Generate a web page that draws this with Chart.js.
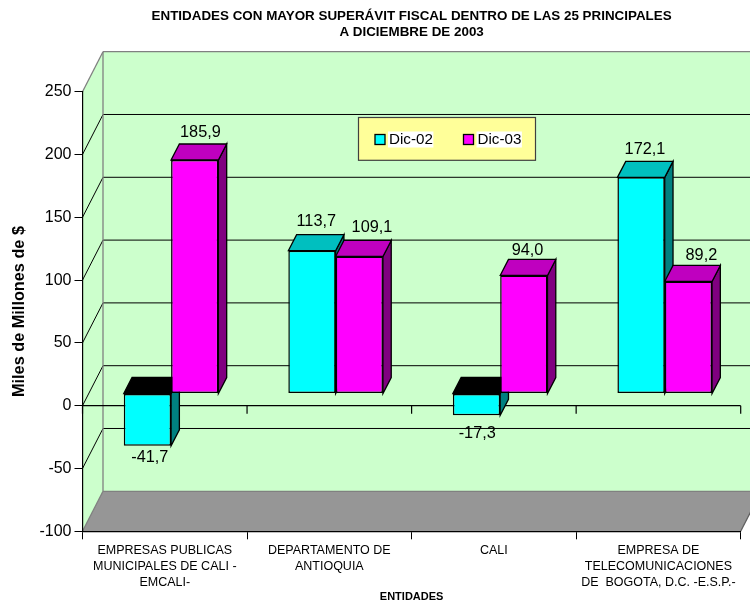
<!DOCTYPE html>
<html lang="es">
<head>
    <meta charset="UTF-8">
    <title>Entidades con mayor superávit fiscal</title>
    <script src="https://cdn.jsdelivr.net/npm/chart.js"></script>
    <style>
        body { margin: 0; background: #fff; }
        canvas { display: block; }
    </style>
</head>
<body>
    <canvas id="chart" width="750" height="605"></canvas>
    <script>
        const categories = [
            ['EMPRESAS PUBLICAS', 'MUNICIPALES DE CALI -', 'EMCALI-'],
            ['DEPARTAMENTO DE', 'ANTIOQUIA'],
            ['CALI'],
            ['EMPRESA DE', 'TELECOMUNICACIONES', 'DE  BOGOTA, D.C. -E.S.P.-']
        ];
        const dic02 = [-41.7, 113.7, -17.3, 172.1];
        const dic03 = [185.9, 109.1, 94.0, 89.2];

        const FONT = '"Liberation Sans", Arial, sans-serif';
        // 3D look: back wall offset, bar offset inside the box, bar depth
        const WALL = { dx: 20.5, dy: -40 };
        const BAR_SHIFT = { dx: 6.3, dy: -12.2 };
        const BAR_DEPTH = { dx: 8.3, dy: -16 };
        const FACES = [
            { top: '#00BFBF', side: '#008080' },
            { top: '#BF00BF', side: '#800080' }
        ];
        // small per-label nudges, from the front face of each bar
        const LABEL_NUDGE = [
            [[2.4, 16.5], [4.3, -24.4], [0.7, 22.5], [3.9, -23.4]],
            [[5.7, -23], [12.7, -24.2], [3.7, -20], [13, -21.7]]
        ];

        function line(ctx, x1, y1, x2, y2, color, width) {
            ctx.strokeStyle = color;
            ctx.lineWidth = width;
            ctx.beginPath();
            ctx.moveTo(x1, y1);
            ctx.lineTo(x2, y2);
            ctx.stroke();
        }

        function poly(ctx, pts, fill) {
            ctx.fillStyle = fill;
            ctx.strokeStyle = '#000';
            ctx.lineWidth = 1.3;
            ctx.beginPath();
            pts.forEach((p, i) => i ? ctx.lineTo(p[0], p[1]) : ctx.moveTo(p[0], p[1]));
            ctx.closePath();
            ctx.fill();
            ctx.stroke();
        }

        // Walls, floor, grid and the zero line
        const box3d = {
            id: 'box3d',
            beforeDraw(chart) {
                const { ctx, chartArea: a, scales: { x, y } } = chart;
                const { dx, dy } = WALL;
                ctx.save();
                ctx.fillStyle = '#CCFFCC';
                ctx.beginPath();
                ctx.moveTo(a.left, a.top);
                ctx.lineTo(a.left + dx, a.top + dy);
                ctx.lineTo(a.right + dx, a.top + dy);
                ctx.lineTo(a.right + dx, a.bottom + dy);
                ctx.lineTo(a.left, a.bottom);
                ctx.closePath();
                ctx.fill();

                y.ticks.forEach(t => {
                    const py = y.getPixelForValue(t.value);
                    if (t.value > -100 && t.value < 250) {
                        line(ctx, a.left, py, a.left + dx, py + dy, '#000', 1);
                        line(ctx, a.left + dx, py + dy, a.right + dx, py + dy, '#000', 1);
                    }
                });

                ctx.fillStyle = '#969696';
                ctx.beginPath();
                ctx.moveTo(a.left, a.bottom);
                ctx.lineTo(a.right, a.bottom);
                ctx.lineTo(a.right + dx, a.bottom + dy);
                ctx.lineTo(a.left + dx, a.bottom + dy);
                ctx.closePath();
                ctx.fill();

                line(ctx, a.left, a.top, a.left + dx, a.top + dy, '#808080', 1.3);
                line(ctx, a.left + dx, a.top + dy, a.right + dx, a.top + dy, '#808080', 1.3);
                line(ctx, a.left + dx, a.top + dy, a.left + dx, a.bottom + dy, '#808080', 1.3);
                line(ctx, a.left + dx, a.bottom + dy, a.right + dx, a.bottom + dy, '#808080', 1.3);
                line(ctx, a.left, a.bottom, a.left + dx, a.bottom + dy, '#808080', 1.3);
                line(ctx, a.right, a.bottom, a.right + dx, a.bottom + dy, '#606060', 1.3);

                const zero = y.getPixelForValue(0);
                line(ctx, a.left, zero, a.right, zero, '#000', 1.2);
                for (let i = 0; i <= categories.length; i++) {
                    const px = a.left + (a.right - a.left) * i / categories.length;
                    line(ctx, px, zero, px, zero + 8, '#000', 1.2);
                }
                ctx.restore();
            },
            beforeDatasetsDraw(chart) {
                const { ctx, scales: { y } } = chart;
                const zero = y.getPixelForValue(0);
                ctx.save();
                ctx.translate(BAR_SHIFT.dx, BAR_SHIFT.dy);
                const ddx = BAR_DEPTH.dx, ddy = BAR_DEPTH.dy;
                chart.data.datasets.forEach((ds, d) => {
                    chart.getDatasetMeta(d).data.forEach(bar => {
                        const l = bar.x - bar.width / 2, r = bar.x + bar.width / 2;
                        const top = Math.min(bar.y, zero), bottom = Math.max(bar.y, zero);
                        poly(ctx, [[r, top], [r + ddx, top + ddy], [r + ddx, bottom + ddy], [r, bottom]], FACES[d].side);
                        poly(ctx, [[l, top], [l + ddx, top + ddy], [r + ddx, top + ddy], [r, top]], bar.y > zero ? '#000' : FACES[d].top);
                    });
                });
            },
            afterDatasetsDraw(chart) {
                const { ctx } = chart;
                ctx.restore();
                ctx.save();
                ctx.font = '16.3px ' + FONT;
                ctx.fillStyle = '#000';
                ctx.textAlign = 'center';
                ctx.textBaseline = 'alphabetic';
                chart.data.datasets.forEach((ds, d) => {
                    chart.getDatasetMeta(d).data.forEach((bar, i) => {
                        const nudge = LABEL_NUDGE[d][i];
                        const text = ds.data[i].toFixed(1).replace('.', ',');
                        ctx.fillText(text, bar.x + BAR_SHIFT.dx + nudge[0], bar.y + BAR_SHIFT.dy + nudge[1]);
                    });
                });

                // Legend box
                const lx = 358.5, ly = 117.5, lw = 177, lh = 42.8;
                ctx.fillStyle = '#FFFF99';
                ctx.strokeStyle = '#404040';
                ctx.lineWidth = 1.2;
                ctx.fillRect(lx, ly, lw, lh);
                ctx.strokeRect(lx, ly, lw, lh);
                const itemX = [375, 463.5];
                ctx.font = '15.2px ' + FONT;
                ctx.textAlign = 'left';
                chart.data.datasets.forEach((ds, d) => {
                    const sx = itemX[d], sy = ly + 17;
                    ctx.fillStyle = ds.backgroundColor;
                    ctx.strokeStyle = '#000';
                    ctx.lineWidth = 1.3;
                    ctx.fillRect(sx, sy, 10, 10);
                    ctx.strokeRect(sx, sy, 10, 10);
                    const w = ctx.measureText(ds.label).width;
                    ctx.fillStyle = '#fff';
                    ctx.fillRect(sx + 13, ly + 14, w + 1.5, 16);
                    ctx.fillStyle = '#000';
                    ctx.fillText(ds.label, sx + 14, ly + 26.3);
                });
                ctx.restore();
            }
        };

        new Chart(document.getElementById('chart'), {
            type: 'bar',
            data: {
                labels: categories,
                datasets: [
                    { label: 'Dic-02', data: dic02, backgroundColor: '#00FFFF', borderColor: '#000', borderWidth: 1.5, borderSkipped: false },
                    { label: 'Dic-03', data: dic03, backgroundColor: '#FF00FF', borderColor: '#000', borderWidth: 1.5, borderSkipped: false }
                ]
            },
            options: {
                responsive: false,
                animation: false,
                layout: { padding: { top: 0, left: 0, right: 9.3, bottom: 0 } },
                categoryPercentage: 0.575,
                barPercentage: 1,
                plugins: {
                    legend: { display: false },
                    tooltip: { enabled: false },
                    title: {
                        display: true,
                        fullSize: false,
                        text: ['ENTIDADES CON MAYOR SUPERÁVIT FISCAL DENTRO DE LAS 25 PRINCIPALES', 'A DICIEMBRE DE 2003'],
                        color: '#000',
                        font: { family: FONT, size: 13.4, weight: 'bold', lineHeight: 1.19 },
                        padding: { top: 8, bottom: 51.8 }
                    }
                },
                scales: {
                    x: {
                        afterFit(s) { s.height = 73.7; },
                        grid: { drawOnChartArea: false, color: '#000', tickLength: 8, offset: true },
                        border: { color: '#000', width: 1.2 },
                        ticks: { color: '#000', font: { family: FONT, size: 12.5, lineHeight: 1.28 }, padding: 3, maxRotation: 0, autoSkip: false },
                        title: { display: true, text: 'ENTIDADES', color: '#000', font: { family: FONT, size: 11, weight: 'bold' }, padding: { top: 0, bottom: 1 } }
                    },
                    y: {
                        min: -100,
                        max: 250,
                        afterFit(s) { s.width = 82.5; },
                        grid: { drawOnChartArea: false, color: '#000', tickLength: 8 },
                        border: { color: '#000', width: 1.2 },
                        ticks: { stepSize: 50, color: '#000', font: { family: FONT, size: 16 }, padding: 3 },
                        title: { display: true, text: 'Miles de Millones de $', color: '#000', font: { family: FONT, size: 16.3, weight: 'bold' }, padding: { top: 10, bottom: 0 } }
                    }
                }
            },
            plugins: [box3d]
        });
    </script>
</body>
</html>
